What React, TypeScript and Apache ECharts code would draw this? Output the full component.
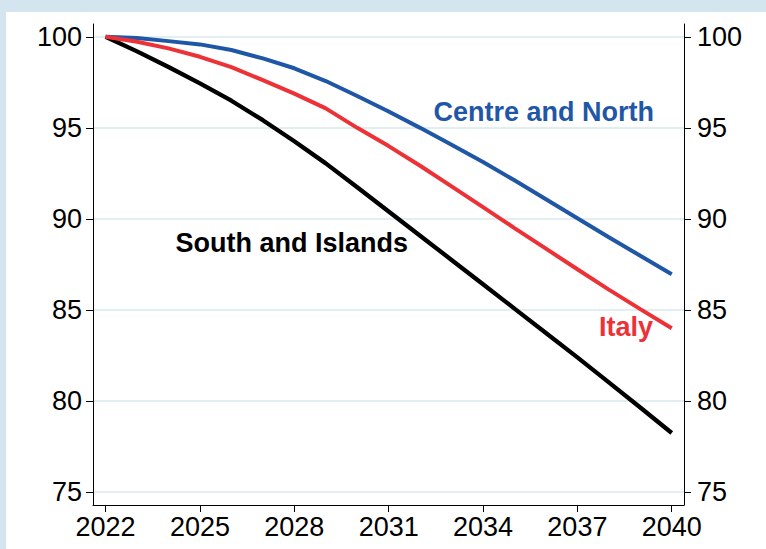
import React, { useEffect, useRef } from 'react';
import * as echarts from 'echarts';

const years = [2022, 2023, 2024, 2025, 2026, 2027, 2028, 2029, 2030, 2031, 2032, 2033, 2034, 2035, 2036, 2037, 2038, 2039, 2040];
const centreNorth = [100, 99.93, 99.76, 99.58, 99.27, 98.81, 98.27, 97.57, 96.75, 95.9, 95.0, 94.07, 93.12, 92.12, 91.08, 90.04, 89.0, 87.98, 86.96];
const italy = [100, 99.73, 99.36, 98.9, 98.33, 97.62, 96.88, 96.07, 95.0, 94.0, 92.92, 91.79, 90.65, 89.5, 88.37, 87.24, 86.12, 85.05, 84.0];
const southIslands = [100, 99.2, 98.34, 97.44, 96.49, 95.42, 94.26, 93.05, 91.74, 90.41, 89.08, 87.75, 86.42, 85.08, 83.74, 82.4, 81.03, 79.65, 78.25];

const xTicks = [2022, 2025, 2028, 2031, 2034, 2037, 2040];
const yTicks = [75, 80, 85, 90, 95, 100];

const labelTexts = ['Centre and North', 'Italy', 'South and Islands'];
const labelYears = [2035.93, 2038.55, 2027.92];
const labelValues = [95.86, 84.07, 88.69];

const BLUE = '#1f57a6';
const RED = '#ec3237';
const BLACK = '#000000';
const labelColors = [BLUE, RED, BLACK];
const FONT = '"Liberation Sans", Arial, Helvetica, sans-serif';

export default function App() {
  const ref = useRef<HTMLDivElement>(null);
  useEffect(() => {
    document.body.style.margin = '0';
    const chart = echarts.init(ref.current!, null, { renderer: 'svg' });
    const toPairs = (vals: number[]) => years.map((y, i) => [y, vals[i]]);
    const yAxisBase = {
      type: 'value',
      min: 74.3,
      max: 100.7,
      axisLine: { show: true, lineStyle: { color: '#000', width: 1 } },
      axisTick: { show: true, length: 7, customValues: yTicks, lineStyle: { color: '#000', width: 1 } },
      axisLabel: { customValues: yTicks, fontSize: 27, color: '#000', fontFamily: FONT, formatter: (v: number) => String(v) },
    };
    chart.setOption({
      animation: false,
      backgroundColor: '#ffffff',
      grid: { left: 87, right: 82, top: 12, bottom: 44, containLabel: false },
      xAxis: {
        type: 'value',
        min: 2021.6,
        max: 2040.39,
        axisLine: { show: true, onZero: false, lineStyle: { color: '#000', width: 1 } },
        axisTick: { show: true, length: 7, customValues: xTicks, lineStyle: { color: '#000', width: 1 } },
        axisLabel: { customValues: xTicks, fontSize: 27, color: '#000', fontFamily: FONT, margin: 8, formatter: (v: number) => String(v) },
        splitLine: { show: false },
      },
      yAxis: [
        {
          ...yAxisBase,
          position: 'left',
          axisLabel: { ...yAxisBase.axisLabel, margin: 11 },
          splitLine: { show: true, customValues: yTicks, lineStyle: { color: '#e2eef0', width: 2 } },
        },
        {
          ...yAxisBase,
          position: 'right',
          axisLabel: { ...yAxisBase.axisLabel, margin: 13 },
          splitLine: { show: false },
        },
      ],
      series: [
        { name: 'Centre and North', type: 'line', data: toPairs(centreNorth), showSymbol: false, lineStyle: { color: BLUE, width: 4 }, z: 3 },
        { name: 'Italy', type: 'line', data: toPairs(italy), showSymbol: false, lineStyle: { color: RED, width: 4 }, z: 4 },
        { name: 'South and Islands', type: 'line', data: toPairs(southIslands), showSymbol: false, lineStyle: { color: BLACK, width: 4.3 }, z: 2 },
      ],
    });
    const graphics = labelTexts.map((t, i) => {
      const p = chart.convertToPixel({ gridIndex: 0 }, [labelYears[i], labelValues[i]]) as number[];
      return {
        type: 'text',
        x: p[0],
        y: p[1],
        z: 10,
        style: {
          text: t,
          fill: labelColors[i],
          font: `bold 27px ${FONT}`,
          align: 'center',
          verticalAlign: 'middle',
          textAlign: 'center',
          textVerticalAlign: 'middle',
        },
      };
    });
    chart.setOption({ graphic: graphics });
    return () => chart.dispose();
  }, []);
  return (
    <div style={{ width: 766, height: 549, background: '#d5e5ef', position: 'relative' }}>
      <div ref={ref} style={{ position: 'absolute', left: 6, top: 12, width: 760, height: 537, background: '#ffffff' }} />
    </div>
  );
}
